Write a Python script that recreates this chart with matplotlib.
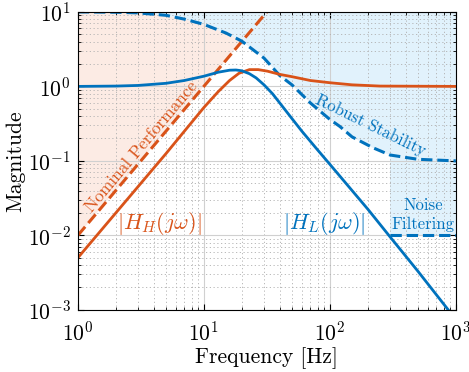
import numpy as np
import matplotlib
matplotlib.use('Agg')
import matplotlib.pyplot as plt

plt.rcParams['font.family'] = 'serif'
plt.rcParams['font.serif'] = ['cmr10']
plt.rcParams['mathtext.fontset'] = 'cm'
plt.rcParams['axes.formatter.use_mathtext'] = True
plt.rcParams['axes.unicode_minus'] = False

c_or = '#D95319'
c_bl = '#0072BD'

# |H_L(jw)| low pass filter
hl_f = [1, 2, 3, 5, 7, 10, 13, 16, 18, 20, 23, 26, 30, 35, 40, 50, 60, 80, 100, 150, 200, 294, 500, 870, 1000]
hl_m = [1.0, 1.01, 1.03, 1.1, 1.2, 1.37, 1.55, 1.65, 1.66, 1.62, 1.48, 1.3, 1.05, 0.8, 0.6, 0.37, 0.25, 0.14, 0.09, 0.04, 0.0225, 0.01, 0.0033, 0.001, 0.00075]

# |H_H(jw)| high pass filter
hh_f = [1, 2, 3, 5, 7, 10, 13, 16, 19, 23, 27, 32, 40, 50, 70, 100, 150, 250, 1000]
hh_m = [0.005, 0.02, 0.045, 0.125, 0.25, 0.52, 0.85, 1.2, 1.5, 1.68, 1.68, 1.6, 1.45, 1.35, 1.2, 1.12, 1.05, 1.01, 1.0]

# nominal performance bound
np_f = [1, 31.6]
np_m = [0.01, 10]

# robust stability bound
rs_f = [1, 2, 3, 5, 7, 10, 15, 20, 30, 40, 50, 70, 100, 120, 150, 220, 300, 500, 1000]
rs_m = [10, 9.9, 9.7, 9.0, 8.0, 6.8, 5.2, 4.05, 2.4, 1.4, 1.05, 0.6, 0.36, 0.29, 0.21, 0.15, 0.12, 0.105, 0.1]

# noise filtering bound
nf_f = [300, 1000]
nf_m = [0.01, 0.01]

fig = plt.figure(figsize=(4.69, 3.72), dpi=100)
ax = fig.add_axes([0.166, 0.167, 0.806, 0.801])

# shaded regions
rs_f_arr = np.array(rs_f)
rs_m_arr = np.array(rs_m)
left = rs_f_arr <= 20
poly_x = [np_f[0], 20] + list(rs_f_arr[left][::-1])
poly_y = [np_m[0], 4.0] + list(rs_m_arr[left][::-1])
ax.fill(poly_x, poly_y, color='#FCEBE4', lw=0, zorder=0.5)
ax.fill_between(rs_f, rs_m, 10, color='#E1F2FC', lw=0, zorder=0.5)
ax.fill_between(nf_f, nf_m, 10, color='#E1F2FC', lw=0, zorder=0.5)

ax.plot(np_f, np_m, '--', color=c_or, lw=2.2)
ax.plot(rs_f, rs_m, '--', color=c_bl, lw=2.2)
ax.plot(nf_f, nf_m, '--', color=c_bl, lw=2.2)
ax.plot(hh_f, hh_m, '-', color=c_or, lw=2)
ax.plot(hl_f, hl_m, '-', color=c_bl, lw=2)

ax.set_xscale('log')
ax.set_yscale('log')
ax.set_xlim(1, 1000)
ax.set_ylim(1e-3, 10)

ax.grid(True, which='major', color='#d0d0d0', lw=0.8, ls='-')
ax.grid(True, which='minor', color='#b0b0b0', lw=0.6, ls=(0, (1.5, 3)))
ax.tick_params(which='both', direction='in', top=True, right=True, labelsize=15.5)
ax.tick_params(which='major', length=4)
ax.tick_params(which='minor', length=2)
ax.tick_params(axis='x', which='major', pad=8)
ax.tick_params(axis='y', which='major', pad=5)

ax.set_xlabel('Frequency [Hz]', fontsize=15.5, labelpad=2)
ax.set_ylabel('Magnitude', fontsize=15.5, labelpad=2)

ax.text(3.2, 0.155, 'Nominal Performance', color=c_or, fontsize=12.5, rotation=50,
        ha='center', va='center', rotation_mode='anchor')
ax.text(210, 0.30, 'Robust Stability', color=c_bl, fontsize=12, rotation=-26,
        ha='center', va='center', rotation_mode='anchor')
ax.text(4.4, 0.0145, r'$|H_H(j\omega)|$', color=c_or, fontsize=16, ha='center', va='center')
ax.text(90, 0.0145, r'$|H_L(j\omega)|$', color=c_bl, fontsize=16, ha='center', va='center')
ax.text(550, 0.019, 'Noise\nFiltering', color=c_bl, fontsize=12, ha='center', va='center',
        linespacing=1.3)

fig.savefig('out.png', dpi=100)
